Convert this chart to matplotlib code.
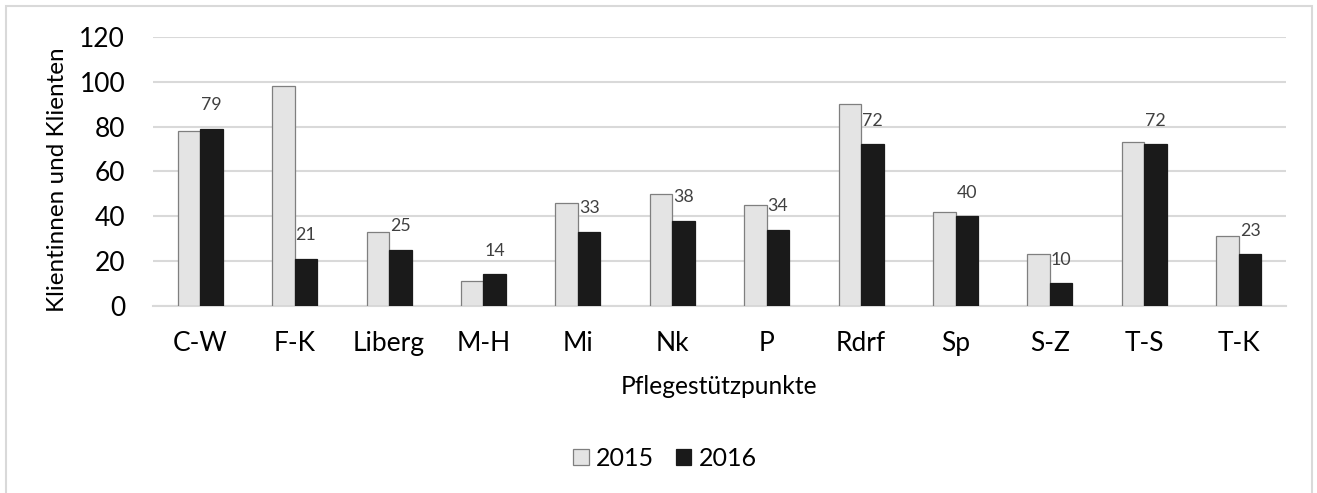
import numpy as np
import matplotlib.pyplot as plt
from matplotlib.patches import Rectangle

plt.rcParams['font.family'] = ['Lato', 'DejaVu Sans']

standorte = ['C-W', 'F-K', 'Liberg', 'M-H', 'Mi', 'Nk', 'P', 'Rdrf', 'Sp', 'S-Z', 'T-S', 'T-K']
werte_2015 = [78, 98, 33, 11, 46, 50, 45, 90, 42, 23, 73, 31]
werte_2016 = [79, 21, 25, 14, 33, 38, 34, 72, 40, 10, 72, 23]
y_ticks = [0, 20, 40, 60, 80, 100, 120]

W, H = 1317, 493
fig = plt.figure(figsize=(W / 100, H / 100), dpi=100)
ax = fig.add_axes([153 / W, 1 - 305.7 / H, (1286 - 153) / W, (305.7 - 37) / H])

# rahmen um das ganze diagramm (unten abgeschnitten)
fig.patches.append(Rectangle((6 / W, -0.1), (1312 - 6) / W, 1 - 6 / H + 0.1,
                             transform=fig.transFigure, fill=False,
                             edgecolor='#d9d9d9', linewidth=1.5))

x = np.arange(len(standorte))
bw = 0.238
b1 = ax.bar(x - bw / 2, werte_2015, bw, color='#e4e4e4', edgecolor='#7f7f7f',
            linewidth=0.9, label='2015', zorder=3)
b2 = ax.bar(x + bw / 2, werte_2016, bw, color='#1a1a1a', edgecolor='#1a1a1a',
            linewidth=0.9, label='2016', zorder=3)

for xi, v in zip(x, werte_2016):
    ax.annotate(str(v), (xi + bw / 2, v), xytext=(0, 17), textcoords='offset points',
                ha='center', va='center', fontsize=12.8, color='#404040')

ax.set_xlim(-0.5, len(standorte) - 0.5)
ax.set_ylim(0, 120)
ax.set_yticks(y_ticks)
ax.set_xticks(x)
ax.set_xticklabels(standorte)
ax.tick_params(axis='both', length=0, labelsize=19)
ax.tick_params(axis='y', pad=20)
ax.tick_params(axis='x', pad=18.5)
ax.grid(axis='y', color='#d9d9d9', linewidth=1.5, zorder=0)
for s in ['top', 'right', 'left']:
    ax.spines[s].set_visible(False)
ax.spines['bottom'].set_color('#d9d9d9')
ax.spines['bottom'].set_linewidth(1.5)

ax.set_xlabel('Pflegestützpunkte', fontsize=17.7, va='center')
ax.xaxis.set_label_coords(0.5, (305.7 - 386) / 268.7)
ax.set_ylabel('Klientinnen und Klienten', fontsize=17.5, va='center')
ax.yaxis.set_label_coords((58 - 153) / 1133, (305.7 - 180) / 268.7)

fig.legend(handles=[b1, b2], loc='center', bbox_to_anchor=(665 / W, 1 - 458 / H),
           ncol=2, frameon=False, fontsize=18, handlelength=0.62, handleheight=0.62,
           handletextpad=0.3, columnspacing=0.86)

fig.savefig('out.png', dpi=100)
